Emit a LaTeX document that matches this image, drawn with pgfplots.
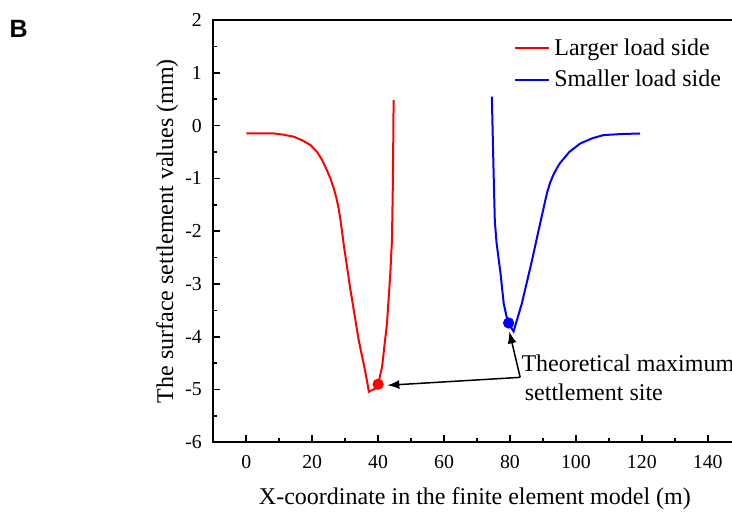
\documentclass[border=0pt]{standalone}
\usepackage{fontspec}
\setmainfont{Liberation Serif}
\newfontfamily\sansb{Liberation Sans}
\usepackage{pgfplots}
\pgfplotsset{compat=1.18}
\usetikzlibrary{arrows.meta}

\pgfplotstableread{
x y
0 -0.15
5 -0.15
8.4 -0.15
11 -0.17
14.4 -0.21
17 -0.28
19.5 -0.37
21.5 -0.5
23 -0.65
24.5 -0.85
25.5 -1.0
26.5 -1.18
27.3 -1.36
28.0 -1.56
28.6 -1.8
29.1 -2.03
29.6 -2.27
31.6 -3.11
34.1 -4.06
36.2 -4.69
37.2 -5.04
39.2 -4.98
40 -4.9
41.2 -4.57
42.7 -3.74
43.7 -2.8
44.2 -2.17
44.5 -1.0
44.7 0.48
}\larger

\pgfplotstableread{
x y
74.5 0.55
75 -0.8
75.4 -1.8
75.9 -2.2
76.5 -2.5
77.1 -2.78
78.1 -3.37
79.4 -3.74
81.1 -3.9
83.6 -3.37
86.7 -2.55
88.7 -1.98
90 -1.62
90.7 -1.42
91.4 -1.24
92.2 -1.08
93.2 -0.93
94.2 -0.81
95.2 -0.71
98 -0.5
101.3 -0.34
105 -0.24
108.4 -0.18
114 -0.16
119.5 -0.15
}\smaller

\begin{document}
\begin{tikzpicture}
\begin{axis}[
 scale only axis,
 width=263.7pt, height=211.15pt,
 xmin=-10, xmax=150, ymin=-6, ymax=2,
 xtick={0,20,...,140}, ytick={-6,-5,...,2},
 minor x tick num=1, minor y tick num=1,
 tick pos=left, tick align=inside,
 major tick length=3.5pt, minor tick length=2pt,
 axis line style={line width=0.9pt},
 every tick/.style={black, line width=0.8pt},
 /pgf/number format/assume math mode=true,
 tick label style={font=\fontsize{9.9}{11}\selectfont},
 xticklabel style={yshift=-3pt},
 yticklabel style={xshift=-2.2pt},
 label style={font=\fontsize{12}{14}\selectfont},
 xlabel={X-coordinate in the finite element model (m)},
 ylabel={The surface settlement values (mm)},
 xlabel style={at={(axis description cs:0.496,-0.148)}, anchor=base},
 ylabel style={at={(axis description cs:-0.0764,0.5)}, anchor=base},
 legend style={draw=none, fill=none, at={(axis cs:79.4,1.81)}, anchor=north west,
   font=\fontsize{12}{14}\selectfont, row sep=2pt},
 legend cell align=left,
 legend image code/.code={\draw[#1] (0pt,0pt) -- (17pt,0pt);},
]
\addplot[red, line width=1pt] table[x=x,y=y] {\larger};
\addlegendentry{Larger load side}
\addplot[blue, line width=1pt] table[x=x,y=y] {\smaller};
\addlegendentry{Smaller load side}
\addplot[only marks, mark=*, mark size=2.6pt, red, forget plot] coordinates {(40,-4.9)};
\addplot[only marks, mark=*, mark size=2.6pt, blue, forget plot] coordinates {(79.6,-3.74)};
\draw[line width=0.75pt, -{Latex[length=6pt,width=4.5pt]}] (axis cs:83.1,-4.77) -- (axis cs:42.8,-4.92);
\draw[line width=0.75pt, -{Latex[length=6pt,width=4.5pt]}] (axis cs:83.1,-4.77) -- (axis cs:79.8,-3.9);
\node[anchor=base west, inner sep=0pt, font=\fontsize{12}{14}\selectfont] at (axis cs:83.4,-4.66) {Theoretical maximum};
\node[anchor=base west, inner sep=0pt, font=\fontsize{12}{14}\selectfont] at (axis cs:84.4,-5.2) {settlement site};
\coordinate (NW) at (rel axis cs:0,1);
\end{axis}
\coordinate (TL) at ([xshift=-106.65pt,yshift=10pt]NW);
\node[anchor=base west, inner sep=0pt, font=\sansb\bfseries\fontsize{12.5}{14}\selectfont] at ([xshift=4.65pt,yshift=-19pt]TL) {B};
\pgfresetboundingbox
\path[use as bounding box] (TL) rectangle ++(366pt,-256.5pt);
\end{tikzpicture}
\end{document}
